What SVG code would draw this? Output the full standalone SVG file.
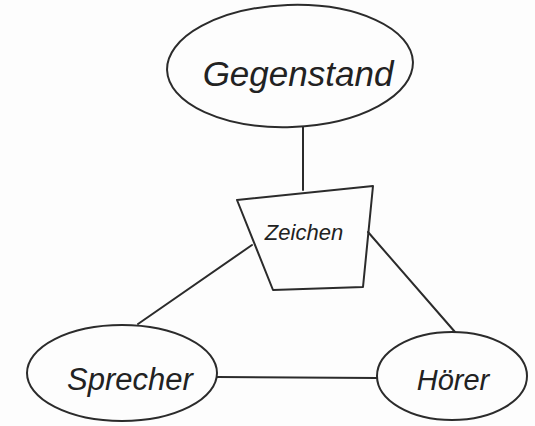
<svg xmlns="http://www.w3.org/2000/svg" width="535" height="426" viewBox="0 0 535 426">
<style>
.shape{fill:none;stroke:#2b2b2b;stroke-width:2;stroke-linejoin:round;stroke-linecap:round}
.lbl{font-family:"Liberation Sans",Arial,sans-serif;font-style:italic;fill:#222;text-anchor:middle}
</style>
<rect width="535" height="426" fill="#fdfdfd"/>
<g id="connectors" class="shape">
<line x1="303" y1="127" x2="303" y2="190"/>
<line x1="252" y1="245" x2="138" y2="324"/>
<line x1="368" y1="232" x2="455" y2="332"/>
<line x1="217" y1="377" x2="377" y2="378"/>
</g>
<g id="gegenstand">
<ellipse class="shape" cx="290" cy="66" rx="123" ry="61" transform="rotate(-2 290 66)"/>
<text class="lbl" x="298" y="86" font-size="35">Gegenstand</text>
</g>
<g id="zeichen">
<path class="shape" d="M237,200 L373,186 L363,287 L273,290 Z"/>
<text class="lbl" x="304" y="240" font-size="22">Zeichen</text>
</g>
<g id="sprecher">
<ellipse class="shape" cx="122" cy="373" rx="95" ry="48"/>
<text class="lbl" x="130" y="390" font-size="31">Sprecher</text>
</g>
<g id="hoerer">
<ellipse class="shape" cx="452" cy="376" rx="75" ry="44"/>
<text class="lbl" x="453" y="390" font-size="29">Hörer</text>
</g>
</svg>
